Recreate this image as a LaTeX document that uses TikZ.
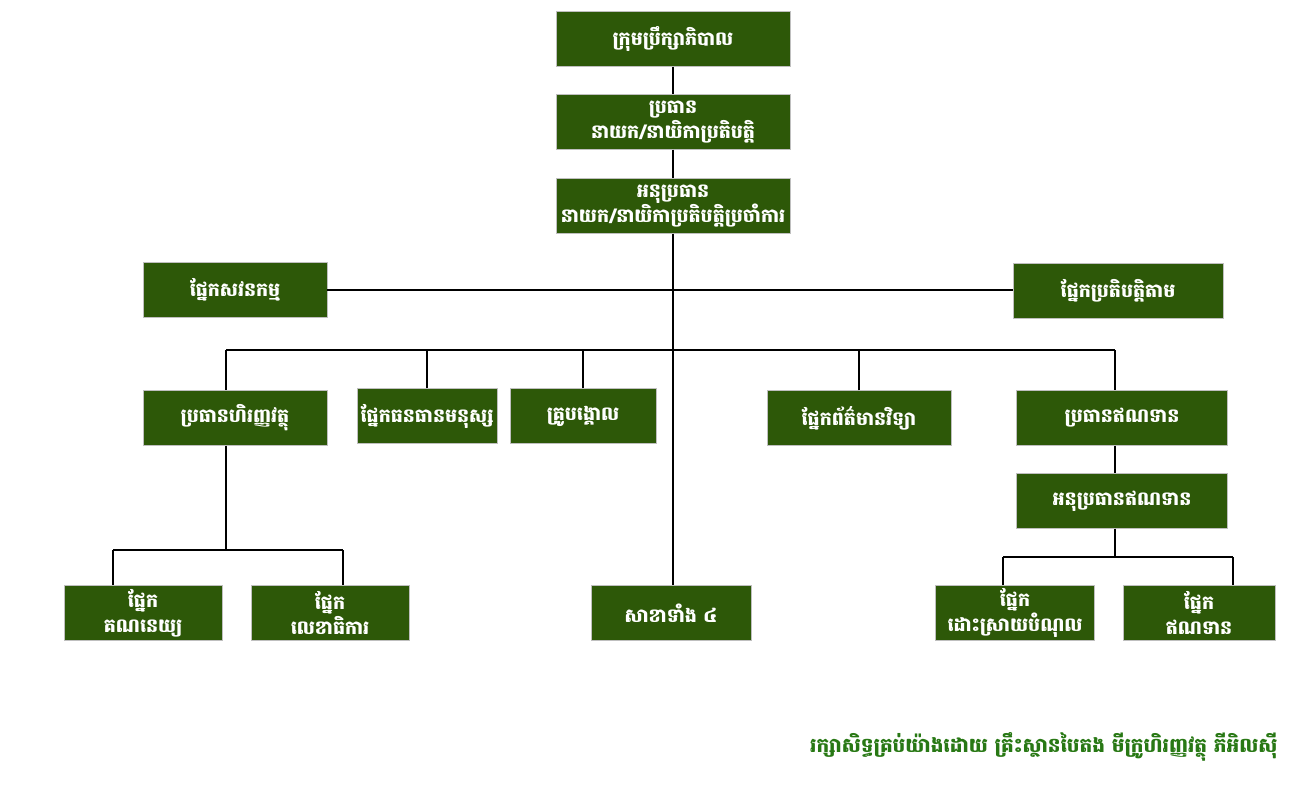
\documentclass[tikz,border=0pt]{standalone}
\usepackage{fontspec}
\newfontfamily\khmer[Script=Khmer]{Battambang}
\usetikzlibrary{positioning}
\definecolor{boxgreen}{RGB}{45,88,8}
\definecolor{footgreen}{RGB}{40,120,20}

\begin{document}
\begin{tikzpicture}
	[x=1pt,y=-1pt,
	unit/.style={rectangle,draw=black!25,fill=boxgreen,text=white,
		font=\khmer\bfseries\fontsize{19}{25}\selectfont,align=center,
		inner sep=0pt,minimum height=55pt},
	wire/.style={draw=black,line width=1.7pt}]
	\useasboundingbox (0,0) rectangle (1316,798);
	% top of the chart
	\node [unit,minimum width=234pt] (board) at (673,39) {ក្រុមប្រឹក្សាភិបាល};
	\node [unit,minimum width=234pt] (chief) at (673,122) {ប្រធាន\\នាយក/នាយិកាប្រតិបត្តិ};
	\node [unit,minimum width=234pt] (deputy) at (673,206) {អនុប្រធាន\\នាយក/នាយិកាប្រតិបត្តិប្រចាំការ};
	\node [unit,minimum width=184pt] (audit) at (235,290) {ផ្នែកសវនកម្ម};
	\node [unit,minimum width=210pt] (comply) at (1118,291) {ផ្នែកប្រតិបត្តិតាម};
	% middle row
	\node [unit,minimum width=184pt] (finance) at (235,418) {ប្រធានហិរញ្ញវត្ថុ};
	\node [unit,minimum width=140pt] (hr) at (427,416) {ផ្នែកធនធានមនុស្ស};
	\node [unit,minimum width=146pt] (trainer) at (583,416) {គ្រូបង្គោល};
	\node [unit,minimum width=184pt] (it) at (859,418) {ផ្នែកព័ត៌មានវិទ្យា};
	\node [unit,minimum width=211pt] (credit) at (1122,418) {ប្រធានឥណទាន};
	\node [unit,minimum width=211pt] (vcredit) at (1122,501) {អនុប្រធានឥណទាន};
	% bottom row
	\node [unit,minimum width=158pt] (account) at (143,613) {ផ្នែក\\គណនេយ្យ};
	\node [unit,minimum width=158pt] (secret) at (330,613) {ផ្នែក\\លេខាធិការ};
	\node [unit,minimum width=160pt] (branch) at (671,613) {សាខាទាំង ៤};
	\node [unit,minimum width=159pt] (debt) at (1015,613) {ផ្នែក\\ដោះស្រាយបំណុល};
	\node [unit,minimum width=152pt] (loans) at (1199,613) {ផ្នែក\\ឥណទាន};
	\node [anchor=east,text=footgreen,font=\khmer\bfseries\fontsize{20}{24}\selectfont] (note) at (1281,747)
		{រក្សាសិទ្ធគ្រប់យ៉ាងដោយ គ្រឹះស្ថានបៃតង មីក្រូហិរញ្ញវត្ថុ ភីអិលស៊ី};
	% connectors
	\coordinate (busL) at (226,350);
	\coordinate (busR) at (1115,350);
	\coordinate (finL) at (113,550);
	\coordinate (finR) at (343,550);
	\coordinate (loanL) at (1003,557);
	\coordinate (loanR) at (1233,557);
	\draw[wire] (board) -- (chief);
	\draw[wire] (chief) -- (deputy);
	\draw[wire] (deputy.south) -- (deputy.south |- branch.north);
	\draw[wire] (audit.east) -- (audit.east -| comply.west);
	\draw[wire] (busL) -- (busR);
	\draw[wire] (busL) -- (busL |- finance.north);
	\draw[wire] (busR) -- (busR |- credit.north);
	\draw[wire] (hr.north) -- (hr.north |- busL);
	\draw[wire] (trainer.north) -- (trainer.north |- busL);
	\draw[wire] (it.north) -- (it.north |- busL);
	\draw[wire] (busL |- finance.south) -- (busL |- finL);
	\draw[wire] (finL) -- (finR);
	\draw[wire] (finL) -- (finL |- account.north);
	\draw[wire] (finR) -- (finR |- secret.north);
	\draw[wire] (busR |- credit.south) -- (busR |- vcredit.north);
	\draw[wire] (busR |- vcredit.south) -- (busR |- loanL);
	\draw[wire] (loanL) -- (loanR);
	\draw[wire] (loanL) -- (loanL |- debt.north);
	\draw[wire] (loanR) -- (loanR |- loans.north);
\end{tikzpicture}
\end{document}
